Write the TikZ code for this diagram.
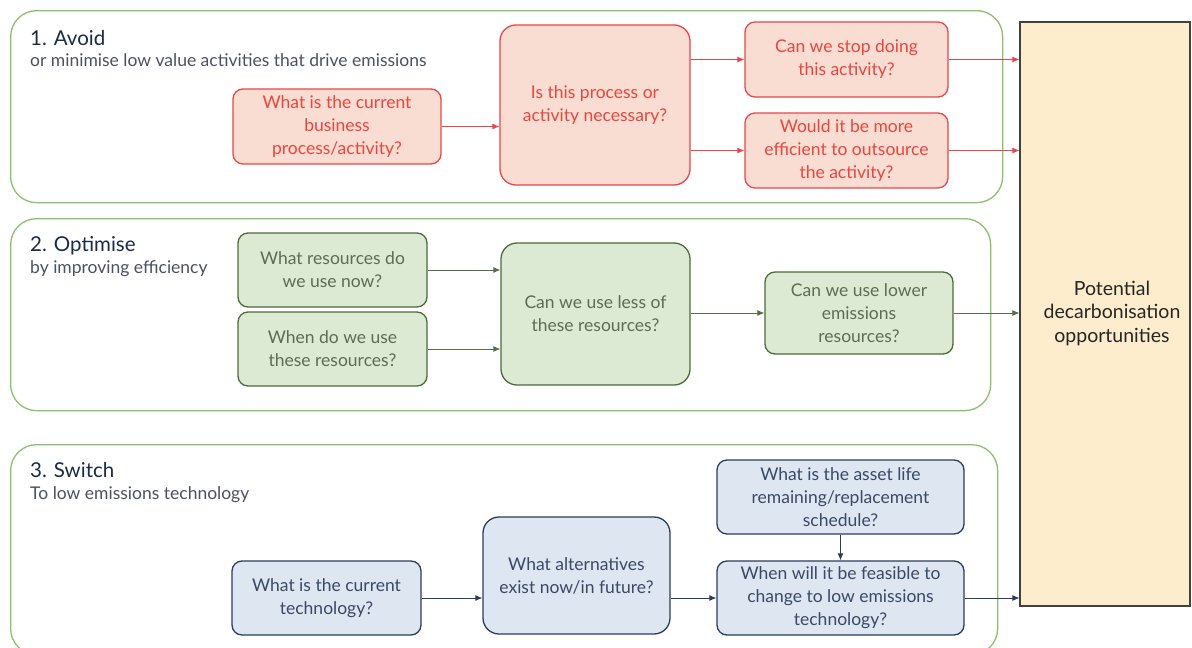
\documentclass[tikz,border=0pt]{standalone}
\usepackage{fontspec}
\setmainfont{Lato}
\usetikzlibrary{arrows.meta}
\definecolor{panelgreen}{HTML}{8DBF6E}
\definecolor{redtext}{HTML}{E8463F}
\definecolor{redfill}{HTML}{F9DDD2}
\definecolor{redline}{HTML}{E8464A}
\definecolor{grnfill}{HTML}{DCEAD3}
\definecolor{grnline}{HTML}{4D6A3A}
\definecolor{grntext}{HTML}{5E6B55}
\definecolor{blufill}{HTML}{DDE6F1}
\definecolor{bluline}{HTML}{2C3C5C}
\definecolor{blutext}{HTML}{3A4965}
\definecolor{outfill}{HTML}{FDEDCC}
\definecolor{titlecol}{HTML}{1C2B4A}
\definecolor{subcol}{HTML}{4A5262}
\tikzset{
  panel/.style={draw=panelgreen, line width=1.3pt, rounded corners=26pt, anchor=north west, inner sep=0pt},
  qbox/.style={rounded corners=10pt, line width=1.3pt, align=center, inner sep=1pt, font=\fontsize{17.5}{23}\selectfont},
  rbox/.style={qbox, draw=redline, fill=redfill, text=redtext},
  gbox/.style={qbox, draw=grnline, fill=grnfill, text=grntext},
  bbox/.style={qbox, draw=bluline, fill=blufill, text=blutext},
  rarr/.style={draw=redline, line width=0.8pt, -{Latex[length=7pt,width=6pt]}},
  garr/.style={draw=grnline!80!gray, line width=0.8pt, -{Latex[length=7pt,width=6pt]}},
  barr/.style={draw=bluline, line width=0.8pt, -{Latex[length=7pt,width=6pt]}},
  ttl/.style={anchor=base west, text=titlecol, font=\fontsize{20.5}{22}\selectfont, inner sep=0pt},
  sub/.style={anchor=base west, text=subcol, font=\fontsize{17.5}{20}\selectfont, inner sep=0pt},
}
\begin{document}
\begin{tikzpicture}[x=1pt,y=-1pt]
\useasboundingbox (0,0) rectangle (1192,648);
\fill[white] (0,0) rectangle (1192,648);
% panels
\node[panel, minimum width=992pt, minimum height=192pt] (P1) at (10,10) {};
\node[panel, minimum width=980pt, minimum height=192pt] (P2) at (10,218) {};
\node[panel, minimum width=987pt, minimum height=210pt] (P3) at (10,444) {};
% output box
\node[draw=black!75, fill=outfill, line width=1.2pt, minimum width=170pt, minimum height=584pt] (OUT) at (1105,314) {};
\node[align=center, font=\fontsize{19.5}{23.5}\selectfont, text=black!85] (OUTtxt) at (1112,313) {Potential\\decarbonisation\\opportunities};
% titles
\node[ttl] (t1) at (30,45) {1. Avoid};
\node[sub] (s1) at (30,66) {or minimise low value activities that drive emissions};
\node[ttl] (t2) at (30,251) {2. Optimise};
\node[sub] (s2) at (30,273) {by improving efficiency};
\node[ttl] (t3) at (30,477) {3. Switch};
\node[sub] (s3) at (30,499) {To low emissions technology};
% panel 1
\node[rbox, minimum width=208pt, minimum height=75pt] (A1) at (337,126.5) {What is the current\\business\\process/activity?};
\node[rbox, rounded corners=16pt, minimum width=190pt, minimum height=160pt] (A2) at (595,105) {Is this process or\\activity necessary?};
\node[rbox, minimum width=203pt, minimum height=75pt] (A3) at (846.5,59.5) {Can we stop doing\\this activity?};
\node[rbox, minimum width=203pt, minimum height=75pt] (A4) at (846.5,150.5) {Would it be more\\efficient to outsource\\the activity?};
\draw[rarr] (A1.east) -- (A1.east -| A2.west);
\draw[rarr] (A2.east |- A3.west) -- (A3.west);
\draw[rarr] (A2.east |- A4.west) -- (A4.west);
\draw[rarr] (A3.east) -- (A3.east -| OUT.west);
\draw[rarr] (A4.east) -- (A4.east -| OUT.west);
% panel 2
\node[gbox, minimum width=189pt, minimum height=74pt] (B1) at (332.5,270) {What resources do\\we use now?};
\node[gbox, minimum width=189pt, minimum height=74pt] (B2) at (332.5,349) {When do we use\\these resources?};
\node[gbox, rounded corners=16pt, minimum width=189pt, minimum height=142pt] (B3) at (595.5,314) {Can we use less of\\these resources?};
\node[gbox, minimum width=188pt, minimum height=82pt] (B4) at (859,313) {Can we use lower\\emissions\\resources?};
\draw[garr] (B1.east) -- (B1.east -| B3.west);
\draw[garr] (B2.east) -- (B2.east -| B3.west);
\draw[garr] (B3.east |- B4.west) -- (B4.west);
\draw[garr] (B4.east) -- (B4.east -| OUT.west);
% panel 3
\node[bbox, minimum width=189pt, minimum height=74pt] (C1) at (326.5,598) {What is the current\\technology?};
\node[bbox, rounded corners=16pt, minimum width=187pt, minimum height=117pt] (C2) at (576.5,575.5) {What alternatives\\exist now/in future?};
\node[bbox, minimum width=247pt, minimum height=74pt] (C3) at (840.5,497) {What is the asset life\\remaining/replacement\\schedule?};
\node[bbox, minimum width=247pt, minimum height=74pt] (C4) at (840.5,598) {When will it be feasible to\\change to low emissions\\technology?};
\draw[barr] (C1.east) -- (C1.east -| C2.west);
\draw[barr] (C2.east |- C4.west) -- (C4.west);
\draw[barr] (C3.south) -- (C4.north);
\draw[barr] (C4.east) -- (C4.east -| OUT.west);
\end{tikzpicture}
\end{document}
